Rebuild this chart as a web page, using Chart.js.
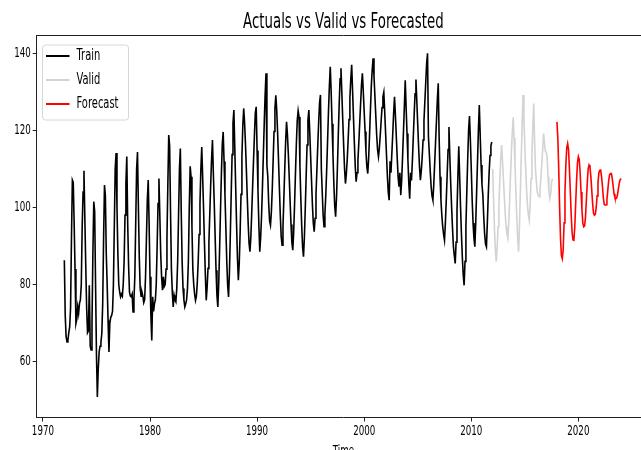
<!DOCTYPE html>
<html>
<head>
<meta charset="utf-8">
<script src="https://cdn.jsdelivr.net/npm/chart.js@4.4.1/dist/chart.umd.min.js"></script>
<style>
  html, body { margin: 0; padding: 0; background: #fff; overflow: hidden; }
  #wrap { width: 660px; height: 450px; }
</style>
</head>
<body>
<div id="wrap"><canvas id="c" width="660" height="450"></canvas></div>
<script>
// Monthly series: each array starts in January of its start year.
const trainStart = 1972;
const trainValues = [
  86.3, 72.0, 66.5, 65.1, 65.5, 67.5, 69.0, 74.0, 92.0, 107.1, 106.5, 96.0,   // 1972
  84.0, 69.9, 71.0, 74.2, 72.5, 75.1, 76.0, 80.0, 95.0, 104.0, 109.5, 97.0,   // 1973
  85.0, 74.0, 67.5, 68.0, 79.8, 64.0, 63.0, 70.0, 88.0, 101.5, 99.0, 80.0,    // 1974
  62.0, 50.8, 58.0, 62.5, 64.0, 65.0, 67.3, 75.0, 92.0, 105.8, 103.0, 88.0,   // 1975
  80.0, 70.7, 62.5, 70.0, 71.5, 72.0, 73.0, 80.0, 95.0, 110.0, 114.1, 100.0,  // 1976
  88.0, 80.0, 78.0, 76.8, 77.5, 77.0, 80.0, 86.0, 98.0, 106.2, 113.2, 96.0,   // 1977
  85.0, 78.0, 77.0, 76.8, 77.5, 72.9, 76.0, 82.0, 96.0, 110.0, 114.4, 100.0,  // 1978
  87.0, 79.0, 77.0, 78.0, 77.0, 75.3, 76.0, 82.0, 92.0, 102.0, 107.1, 96.0,   // 1979
  82.0, 72.0, 65.5, 76.8, 73.0, 75.0, 76.0, 80.0, 90.0, 101.0, 107.5, 98.0,   // 1980
  88.0, 82.0, 78.5, 82.0, 79.5, 80.0, 84.0, 92.0, 106.0, 118.8, 116.0, 99.0,  // 1981
  84.0, 78.0, 74.2, 77.2, 76.0, 75.5, 79.0, 86.0, 98.0, 110.0, 115.3, 99.0,   // 1982
  86.0, 79.0, 76.0, 74.2, 75.0, 76.0, 79.0, 86.0, 100.0, 110.7, 108.0, 95.0,  // 1983
  84.0, 80.0, 77.5, 75.9, 77.0, 80.5, 86.0, 93.0, 101.0, 110.0, 115.7, 108.0, // 1984
  99.8, 91.0, 82.7, 75.9, 79.2, 84.2, 90.9, 98.4, 105.9, 112.5, 117.5, 108.8, // 1985
  101.0, 92.4, 83.7, 77.2, 74.2, 80.1, 89.2, 99.2, 108.7, 116.4, 119.6, 111.9, // 1986
  103.3, 94.8, 86.2, 79.8, 76.8, 83.1, 92.8, 103.5, 113.7, 121.9, 125.3, 115.6, // 1987
  105.4, 95.7, 86.8, 81.1, 85.6, 93.6, 103.4, 113.2, 121.2, 125.7, 122.0, 116.4, // 1988
  109.7, 102.6, 95.9, 90.7, 88.5, 92.3, 98.7, 105.4, 112.2, 118.6, 124.5, 126.1, // 1989
  114.8, 104.3, 95.3, 88.5, 92.2, 97.8, 105.2, 113.5, 121.8, 129.2, 134.8, 111.0, // 1990
  108.0, 101.0, 96.5, 95.4, 98.8, 104.8, 112.3, 119.7, 125.7, 129.1, 125.2, 119.4, // 1991
  112.4, 105.0, 98.0, 92.5, 90.2, 95.0, 102.4, 110.0, 117.1, 122.2, 118.9, 113.9, // 1992
  107.9, 101.6, 95.6, 90.9, 88.9, 93.6, 100.8, 108.8, 116.4, 122.6, 125.1, 123.5, // 1993
  110.8, 102.4, 95.2, 89.7, 87.2, 92.2, 99.8, 108.2, 116.2, 122.6, 125.3, 119.6, // 1994
  113.3, 107.0, 100.7, 95.9, 93.7, 97.2, 103.3, 109.7, 116.1, 122.1, 127.1, 129.2, // 1995
  110.0, 104.0, 98.0, 95.0, 98.3, 103.3, 109.9, 117.4, 124.9, 131.5, 136.5, 130.0, // 1996
  121.7, 113.9, 106.2, 100.3, 97.6, 102.6, 110.3, 118.8, 126.9, 133.4, 136.1, 129.5, // 1997
  122.6, 116.1, 110.1, 106.2, 108.7, 112.4, 117.3, 122.8, 128.4, 133.3, 137.0, 130.3, // 1998
  123.4, 116.7, 110.6, 106.7, 109.0, 112.3, 116.8, 121.9, 126.9, 131.8, 134.8, 130.1, // 1999
  124.9, 119.7, 114.5, 110.6, 108.8, 112.7, 118.7, 125.2, 131.5, 135.7, 138.7, 134.1, // 2000
  129.0, 123.9, 118.8, 115.0, 113.2, 115.4, 118.7, 122.4, 125.9, 128.7, 129.9, 124.9, // 2001
  119.3, 113.7, 108.1, 103.9, 101.9, 112.0, 109.0, 114.0, 119.0, 124.5, 128.7, 123.8, // 2002
  118.5, 113.0, 108.0, 105.4, 109.0, 103.2, 107.0, 113.0, 119.5, 126.0, 133.0, 126.0, // 2003
  119.2, 112.4, 106.3, 102.3, 109.0, 107.0, 112.0, 118.0, 124.0, 129.5, 133.2, 127.5, // 2004
  121.5, 115.7, 110.5, 107.1, 109.5, 113.0, 117.5, 122.5, 127.5, 132.5, 137.4, 140.0, // 2005
  118.4, 114.0, 109.5, 105.5, 103.0, 101.9, 106.0, 111.5, 117.0, 122.5, 128.0, 132.2, // 2006
  118.0, 108.0, 102.0, 98.0, 95.0, 93.0, 91.5, 96.0, 102.0, 108.5, 115.0, 120.9,      // 2007
  113.0, 106.0, 100.0, 94.5, 89.8, 87.5, 85.5, 91.0, 99.0, 108.0, 115.9, 108.0,       // 2008
  100.0, 93.0, 87.0, 82.5, 79.8, 86.0, 95.0, 104.0, 112.5, 120.0, 123.7, 117.5,       // 2009
  110.0, 102.0, 96.0, 92.0, 89.8, 96.0, 104.0, 112.0, 120.0, 126.6, 118.8, 111.0,     // 2010
  106.0, 103.2, 97.5, 93.0, 90.5, 89.8, 96.0, 103.0, 109.0, 113.5, 116.0, 117.0       // 2011
];

const validStart = 2012;
const validValues = [
  110.0, 102.0, 94.5, 89.0, 85.9, 89.5, 95.0, 101.0, 107.0, 112.5, 116.2, 112.0,  // 2012
  107.5, 103.0, 98.5, 95.0, 93.0, 92.0, 96.0, 102.0, 108.5, 114.5, 119.5, 123.4,  // 2013
  118.0, 111.0, 104.0, 97.5, 92.0, 88.5, 95.0, 104.0, 113.0, 121.0, 129.2, 123.0, // 2014
  116.0, 110.0, 104.5, 100.5, 98.0, 96.7, 101.0, 107.5, 114.0, 121.0, 127.0, 117.0, // 2015
  109.7, 106.5, 104.0, 103.2, 102.8, 104.5, 107.5, 111.0, 115.0, 119.2, 117.0, 114.5, // 2016
  114.4, 113.0, 108.0, 104.0, 102.3, 103.5, 106.5, 107.5                             // 2017
];

const forecastStart = 2018;
const forecastValues = [
  122.2, 118.0, 110.0, 100.0, 92.0, 87.5, 86.7, 89.0, 96.0, 104.0, 111.0, 115.5,   // 2018
  116.6, 115.0, 110.0, 104.0, 98.0, 93.5, 91.6, 91.5, 95.0, 101.0, 107.0, 111.5,   // 2019
  113.2, 112.5, 109.0, 104.0, 99.5, 96.0, 95.0, 95.2, 97.5, 102.0, 106.5, 110.0,   // 2020
  111.0, 110.5, 108.0, 104.5, 101.0, 98.5, 98.0, 98.2, 100.0, 103.0, 106.5, 109.0, // 2021
  109.6, 109.7, 108.0, 105.5, 102.5, 100.8, 100.6, 100.7, 102.0, 104.5, 107.0, 108.5, // 2022
  108.8, 108.8, 107.5, 105.5, 103.5, 102.5, 102.3, 102.5, 103.5, 105.0, 106.5, 107.3, // 2023
  107.5                                                                              // 2024
];

const seriesNames = ['Train', 'Valid', 'Forecast'];
const seriesColors = ['#000000', '#d3d3d3', '#ff0000'];
const xTicks = [1970, 1980, 1990, 2000, 2010, 2020];
const yTicks = [60, 80, 100, 120, 140];
const chartTitle = 'Actuals vs Valid vs Forecasted';
const xAxisTitle = 'Time';

function monthly(start, values) {
  return values.map((v, i) => ({ x: start + i / 12, y: v }));
}

const FONT = '"DejaVu Sans", "Liberation Sans", sans-serif';
const SX = 0.62; // horizontal squeeze of all lettering

function squeezedText(ctx, text, x, y, size, align, baseline) {
  ctx.save();
  ctx.font = size + 'px ' + FONT;
  ctx.fillStyle = '#000';
  ctx.textAlign = align;
  ctx.textBaseline = baseline;
  ctx.translate(x, y);
  ctx.scale(SX, 1);
  ctx.fillText(text, 0, 0);
  ctx.restore();
}

const lettering = {
  id: 'lettering',
  afterDraw(chart) {
    const ctx = chart.ctx;
    const area = chart.chartArea;
    const xs = chart.scales.x, ys = chart.scales.y;

    // top and right spines
    ctx.save();
    ctx.strokeStyle = '#222';
    ctx.lineWidth = 1;
    ctx.beginPath();
    ctx.moveTo(area.left, Math.round(area.top) + 0.5);
    ctx.lineTo(area.right, Math.round(area.top) + 0.5);
    ctx.lineTo(area.right, area.bottom);
    ctx.stroke();
    ctx.restore();

    // title centred over the axes
    squeezedText(ctx, chartTitle, (area.left + area.right) / 2, 28, 21.5, 'center', 'alphabetic');

    // tick labels
    xTicks.forEach(t => squeezedText(ctx, String(t), xs.getPixelForValue(t), area.bottom + 7, 14, 'center', 'top'));
    yTicks.forEach(t => squeezedText(ctx, String(t), area.left - 6, ys.getPixelForValue(t), 14, 'right', 'middle'));

    // axis title (partly below the canvas edge)
    squeezedText(ctx, xAxisTitle, (area.left + area.right) / 2, area.bottom + 27, 14, 'center', 'top');

    // legend
    const bx = 42.5, by = 45, bw = 86, bh = 75;
    ctx.save();
    ctx.beginPath();
    ctx.roundRect(bx, by, bw, bh, 3);
    ctx.fillStyle = 'rgba(255,255,255,0.85)';
    ctx.fill();
    ctx.strokeStyle = '#d6d6d6';
    ctx.lineWidth = 1;
    ctx.stroke();
    ctx.restore();
    chart.data.datasets.forEach((ds, i) => {
      const ly = 56 + i * 24;
      ctx.save();
      ctx.strokeStyle = ds.borderColor;
      ctx.lineWidth = 2;
      ctx.beginPath();
      ctx.moveTo(46, ly);
      ctx.lineTo(69.5, ly);
      ctx.stroke();
      ctx.restore();
      squeezedText(ctx, ds.label, 76.5, ly, 16, 'left', 'middle');
    });
  }
};

new Chart(document.getElementById('c'), {
  type: 'line',
  data: {
    datasets: [
      { label: seriesNames[0], data: monthly(trainStart, trainValues), borderColor: seriesColors[0] },
      { label: seriesNames[1], data: monthly(validStart, validValues), borderColor: seriesColors[1] },
      { label: seriesNames[2], data: monthly(forecastStart, forecastValues), borderColor: seriesColors[2] }
    ]
  },
  options: {
    responsive: false,
    animation: false,
    devicePixelRatio: 1,
    layout: { padding: { top: 35, right: 10, left: 0, bottom: 0 } },
    elements: {
      line: { borderWidth: 1.6, tension: 0, fill: false },
      point: { radius: 0 }
    },
    plugins: { legend: { display: false }, title: { display: false }, tooltip: { enabled: false } },
    scales: {
      x: {
        type: 'linear',
        min: 1969.42,
        max: 2026.69,
        afterBuildTicks: s => { s.ticks = xTicks.map(v => ({ value: v })); },
        afterFit: s => { s.height = 32.5; },
        ticks: { display: false },
        grid: { display: true, drawOnChartArea: false, drawTicks: true, tickLength: 4, color: '#222', lineWidth: 1 },
        border: { display: true, color: '#222', width: 1 }
      },
      y: {
        type: 'linear',
        min: 45.5,
        max: 144.75,
        afterBuildTicks: s => { s.ticks = yTicks.map(v => ({ value: v })); },
        afterFit: s => { s.width = 36.7; },
        ticks: { display: false },
        grid: { display: true, drawOnChartArea: false, drawTicks: true, tickLength: 4, color: '#222', lineWidth: 1 },
        border: { display: true, color: '#222', width: 1 }
      }
    }
  },
  plugins: [lettering]
});
</script>
</body>
</html>
